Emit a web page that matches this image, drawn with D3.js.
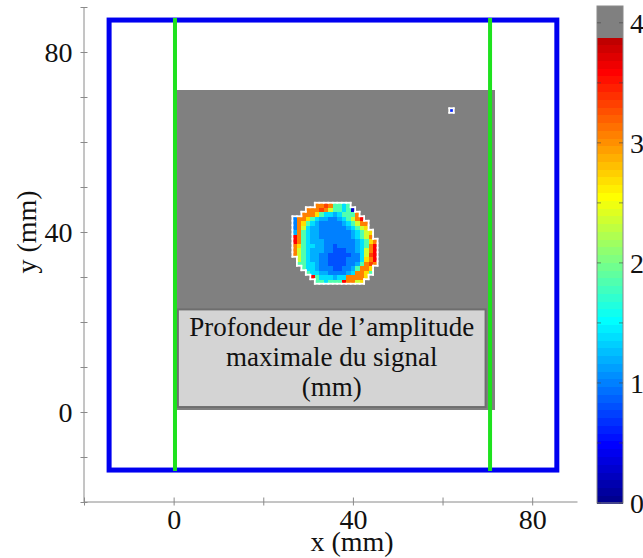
<!DOCTYPE html>
<html><head><meta charset="utf-8">
<script src="https://cdn.jsdelivr.net/npm/d3@7"></script>
<style>
html,body{margin:0;padding:0;background:#fff;}
svg{display:block;}
text{font-family:"Liberation Serif","Times New Roman",serif;fill:#111;}
</style></head>
<body>
<svg id="chart" width="643" height="558"></svg>
<script>
// ---------- data ----------
const xTicks = [-20, 0, 20, 40, 60, 80];
const xTickLabels = ["", "0", "", "40", "", "80"];
const yTicks = [-20, -10, 0, 10, 20, 30, 40, 50, 60, 70, 80, 90];
const yTickLabels = ["", "", "0", "", "", "", "40", "", "", "", "80", ""];
const cbTicks = [0, 0.5, 1, 1.5, 2, 2.5, 3, 3.5, 4];
const cbLabels = ["0", "", "1", "", "2", "", "3", "", "4"];
const labelLines = ["Profondeur de l\u2019amplitude", "maximale du signal", "(mm)"];

const plateX = [-14.4, 85.5];   // blue outline (mm)
const plateY = [-12.9, 87.1];
const greenLinesX = [0.3, 70.6];

const gridCols = 71, gridRows = 71;   // 1 mm cells, centres 1..71
const backgroundDepth = 4.0;          // gray (no defect)
const cMax = 4.14;

// blob: columns m = 27..45, rows n = 46 (top) .. 29
const blobFirstCol = 27, blobTopRow = 46;
const blobRows = [
[null,null,null,null,null,3.05,3.05,3.3,3.05,1.85,1.85,1.4,1.85,null,null,null,null,null,null],
[null,null,null,3.05,3.05,3.05,3.3,3.05,2.38,1.85,1.85,1.4,1.85,0.3,null,null,null,null,null],
[null,null,3.05,3.05,3.05,2.7,1.85,1.4,1.4,1.2,1.4,1.85,1.85,1.85,3.05,null,null,null,null],
[1.03,3.05,3.05,2.7,1.85,1.4,1.2,1.2,1.03,1.03,1.2,1.4,1.85,2.38,3.05,3.62,null,null,null],
[1.03,3.05,2.7,1.85,1.4,1.2,1.03,1.03,1.03,1.03,1.03,1.2,1.4,1.85,2.38,3.05,3.05,null,null],
[1.03,3.05,2.38,1.4,1.2,1.2,1.03,1.03,1.03,1.03,1.03,1.03,1.2,1.4,1.85,2.38,2.7,null,null],
[1.2,3.05,1.85,1.4,1.2,1.2,1.03,1.03,1.03,1.03,1.03,1.03,1.03,1.2,1.4,1.85,2.38,2.7,null],
[3.62,3.05,1.85,1.4,1.2,1.2,1.03,1.03,1.03,1.03,1.03,1.03,1.03,1.2,1.4,1.85,2.38,3.05,null],
[3.62,3.05,1.85,1.4,1.2,1.2,1.2,1.03,1.03,1.03,1.03,1.03,1.03,1.03,1.2,1.4,1.85,2.7,3.05],
[3.05,2.7,1.85,1.4,1.4,1.2,1.2,1.03,1.03,0.83,1.03,1.03,1.03,1.03,1.2,1.4,1.85,3.05,3.62],
[3.05,2.38,1.85,1.4,1.2,1.2,1.2,1.03,1.03,0.83,0.83,0.83,1.03,1.03,1.2,1.4,2.38,3.05,3.62],
[3.05,2.38,1.85,1.4,1.2,1.2,1.03,1.03,0.83,0.83,0.83,0.83,0.83,1.03,1.03,1.4,2.38,3.3,3.62],
[null,2.38,1.85,1.4,1.2,1.2,1.03,1.03,0.83,0.83,0.83,0.83,1.03,1.03,1.03,1.4,2.7,3.05,3.62],
[null,1.85,1.85,1.4,1.4,1.2,1.03,1.03,0.83,0.83,0.83,0.83,1.03,1.03,1.2,1.85,3.05,3.3,3.05],
[null,null,1.85,1.4,1.4,1.2,1.03,1.03,1.03,0.83,0.83,1.03,1.03,1.2,1.85,3.05,3.05,2.7,null],
[null,null,null,1.85,1.4,1.4,1.2,1.2,1.03,1.03,1.03,1.03,1.2,1.4,3.05,3.05,2.7,1.85,null],
[null,null,null,null,3.62,1.85,1.4,1.4,1.4,1.2,1.4,1.4,3.05,3.05,3.05,3.05,2.7,null,null],
[null,null,null,null,null,1.85,1.85,1.4,1.85,1.85,1.85,3.62,3.05,3.05,2.38,2.7,null,null,null]
];
// isolated pixel [col, row, depth]
const isolatedPixels = [[62, 67, 0.6]];

// ---------- scales ----------
const FONT = '"Liberation Serif","Times New Roman",serif';
const svg = d3.select("#chart");
const x = d3.scaleLinear().domain([-20, 90]).range([84, 577]);
const y = d3.scaleLinear().domain([-20, 90]).range([502, 7]);
const cb = d3.scaleLinear().domain([0, cMax]).range([503, 6]);

const clamp = v => Math.max(0, Math.min(1, v));
function jet(t) {
  return d3.rgb(255 * clamp(Math.min(4 * t - 1.5, -4 * t + 4.5)),
                255 * clamp(Math.min(4 * t - 0.5, -4 * t + 3.5)),
                255 * clamp(Math.min(4 * t + 0.5, -4 * t + 2.5))).formatHex();
}
function colorOf(v) {
  const i = Math.max(0, Math.min(63, Math.floor(v / cMax * 64)));
  if (i >= 60) return "#808080";
  return jet((i + 1) / 64);
}

// ---------- build grid ----------
const grid = [];
for (let n = 1; n <= gridRows; n++) for (let m = 1; m <= gridCols; m++) grid.push({m, n, v: backgroundDepth, data: false});
const cellAt = (m, n) => (m >= 1 && m <= gridCols && n >= 1 && n <= gridRows) ? grid[(n - 1) * gridCols + (m - 1)] : null;
blobRows.forEach((row, k) => row.forEach((v, j) => {
  if (v !== null) { const c = cellAt(blobFirstCol + j, blobTopRow - k); c.v = v; c.data = true; }
}));
isolatedPixels.forEach(([m, n, v]) => { const c = cellAt(m, n); c.v = v; c.data = true; });

// ---------- plate outline (blue) ----------
svg.append("rect")
  .attr("x", x(plateX[0])).attr("y", y(plateY[1]))
  .attr("width", x(plateX[1]) - x(plateX[0])).attr("height", y(plateY[0]) - y(plateY[1]))
  .attr("fill", "none").attr("stroke", "#0000f0").attr("stroke-width", 5);

// ---------- image cells ----------
svg.append("g").attr("shape-rendering", "crispEdges")
  .selectAll("rect").data(grid).join("rect")
  .attr("x", d => x(d.m - 0.5)).attr("y", d => y(d.n + 0.5))
  .attr("width", d => x(d.m + 0.5) - x(d.m - 0.5) + 0.5)
  .attr("height", d => y(d.n - 0.5) - y(d.n + 0.5) + 0.5)
  .attr("fill", d => colorOf(d.v));

// white outline around data cells
const edges = [];
grid.filter(d => d.data).forEach(d => {
  const nb = (dm, dn) => { const c = cellAt(d.m + dm, d.n + dn); return c && c.data; };
  if (!nb(0, 1)) edges.push([d.m - 0.5, d.n + 0.5, d.m + 0.5, d.n + 0.5]);
  if (!nb(0, -1)) edges.push([d.m - 0.5, d.n - 0.5, d.m + 0.5, d.n - 0.5]);
  if (!nb(-1, 0)) edges.push([d.m - 0.5, d.n - 0.5, d.m - 0.5, d.n + 0.5]);
  if (!nb(1, 0)) edges.push([d.m + 0.5, d.n - 0.5, d.m + 0.5, d.n + 0.5]);
});
svg.append("g").selectAll("line").data(edges).join("line")
  .attr("x1", d => x(d[0])).attr("y1", d => y(d[1]))
  .attr("x2", d => x(d[2])).attr("y2", d => y(d[3]))
  .attr("stroke", "#ffffff").attr("stroke-width", 1.8).attr("stroke-linecap", "square");

// ---------- label box ----------
const box = {x0: 0.95, x1: 69.6, y0: 1.1, y1: 22.8};
svg.append("rect")
  .attr("x", x(box.x0)).attr("y", y(box.y1))
  .attr("width", x(box.x1) - x(box.x0)).attr("height", y(box.y0) - y(box.y1))
  .attr("fill", "#d4d4d4").attr("stroke", "#6e6e6e").attr("stroke-width", 2);
svg.append("g").selectAll("text").data(labelLines).join("text")
  .attr("x", (x(box.x0) + x(box.x1)) / 2)
  .attr("y", (d, i) => y(box.y1) + 27 + i * 30)
  .attr("text-anchor", "middle").attr("font-size", 27).attr("font-family", FONT)
  .text(d => d);

// ---------- green lines ----------
svg.append("g").selectAll("line").data(greenLinesX).join("line")
  .attr("x1", d => x(d)).attr("x2", d => x(d))
  .attr("y1", y(plateY[1]) - 2).attr("y2", y(plateY[0]) + 1)
  .attr("stroke", "#1ee21e").attr("stroke-width", 4);

// ---------- axes ----------
const axisColor = "#8a8a8a";
const gx = svg.append("g").attr("transform", `translate(0,${y(-20) - 0.5})`)
  .call(d3.axisBottom(x).tickValues(xTicks).tickFormat((d, i) => xTickLabels[i]).tickSizeOuter(0));
const gy = svg.append("g").attr("transform", `translate(${x(-20) - 0.5},0)`)
  .call(d3.axisLeft(y).tickValues(yTicks).tickFormat((d, i) => yTickLabels[i]).tickSizeOuter(0));
[gx, gy].forEach(g => {
  g.attr("font-family", FONT);
  g.select(".domain").attr("stroke", axisColor);
  g.selectAll(".tick text").attr("font-size", 28).attr("font-family", FONT).attr("fill", "#111");
});
gx.selectAll(".tick line").attr("stroke", axisColor).attr("y1", -4).attr("y2", 4);
gy.selectAll(".tick line").attr("stroke", axisColor).attr("x1", -3).attr("x2", 4);
gx.selectAll(".tick text").attr("y", 8).attr("dy", "0.71em");
gy.selectAll(".tick text").attr("x", -11).attr("dy", "0.35em");

svg.append("text").attr("x", 352).attr("y", 551).attr("text-anchor", "middle").attr("font-size", 28).attr("font-family", FONT).text("x (mm)");
svg.append("text").attr("transform", `translate(36,${y(40)}) rotate(-90)`).attr("text-anchor", "middle").attr("font-size", 28).attr("font-family", FONT).text("y (mm)");

// ---------- colorbar ----------
const cbX0 = 597, cbX1 = 623;
const bands = d3.range(64).map(i => ({lo: i * cMax / 64, hi: (i + 1) * cMax / 64}));
svg.append("g").attr("shape-rendering", "crispEdges").selectAll("rect").data(bands).join("rect")
  .attr("x", cbX0).attr("width", cbX1 - cbX0)
  .attr("y", d => cb(d.hi)).attr("height", d => cb(d.lo) - cb(d.hi) + 0.6)
  .attr("fill", d => colorOf((d.lo + d.hi) / 2));
svg.append("rect").attr("x", cbX0).attr("y", cb(cMax)).attr("width", cbX1 - cbX0).attr("height", cb(0) - cb(cMax))
  .attr("fill", "none").attr("stroke", "#8a8a8a").attr("stroke-width", 1);
const cbt = svg.append("g").selectAll("g").data(cbTicks).join("g");
cbt.append("line").attr("x1", cbX0).attr("x2", cbX0 + 4).attr("y1", d => cb(d)).attr("y2", d => cb(d)).attr("stroke", "#444").attr("stroke-opacity", 0.6);
cbt.append("line").attr("x1", cbX1 - 4).attr("x2", cbX1).attr("y1", d => cb(d)).attr("y2", d => cb(d)).attr("stroke", "#444").attr("stroke-opacity", 0.6);
cbt.append("text").attr("x", 630).attr("y", d => cb(d)).attr("dy", "0.35em").attr("font-size", 28).attr("font-family", FONT)
  .text((d, i) => cbLabels[i]);
</script>
</body></html>
